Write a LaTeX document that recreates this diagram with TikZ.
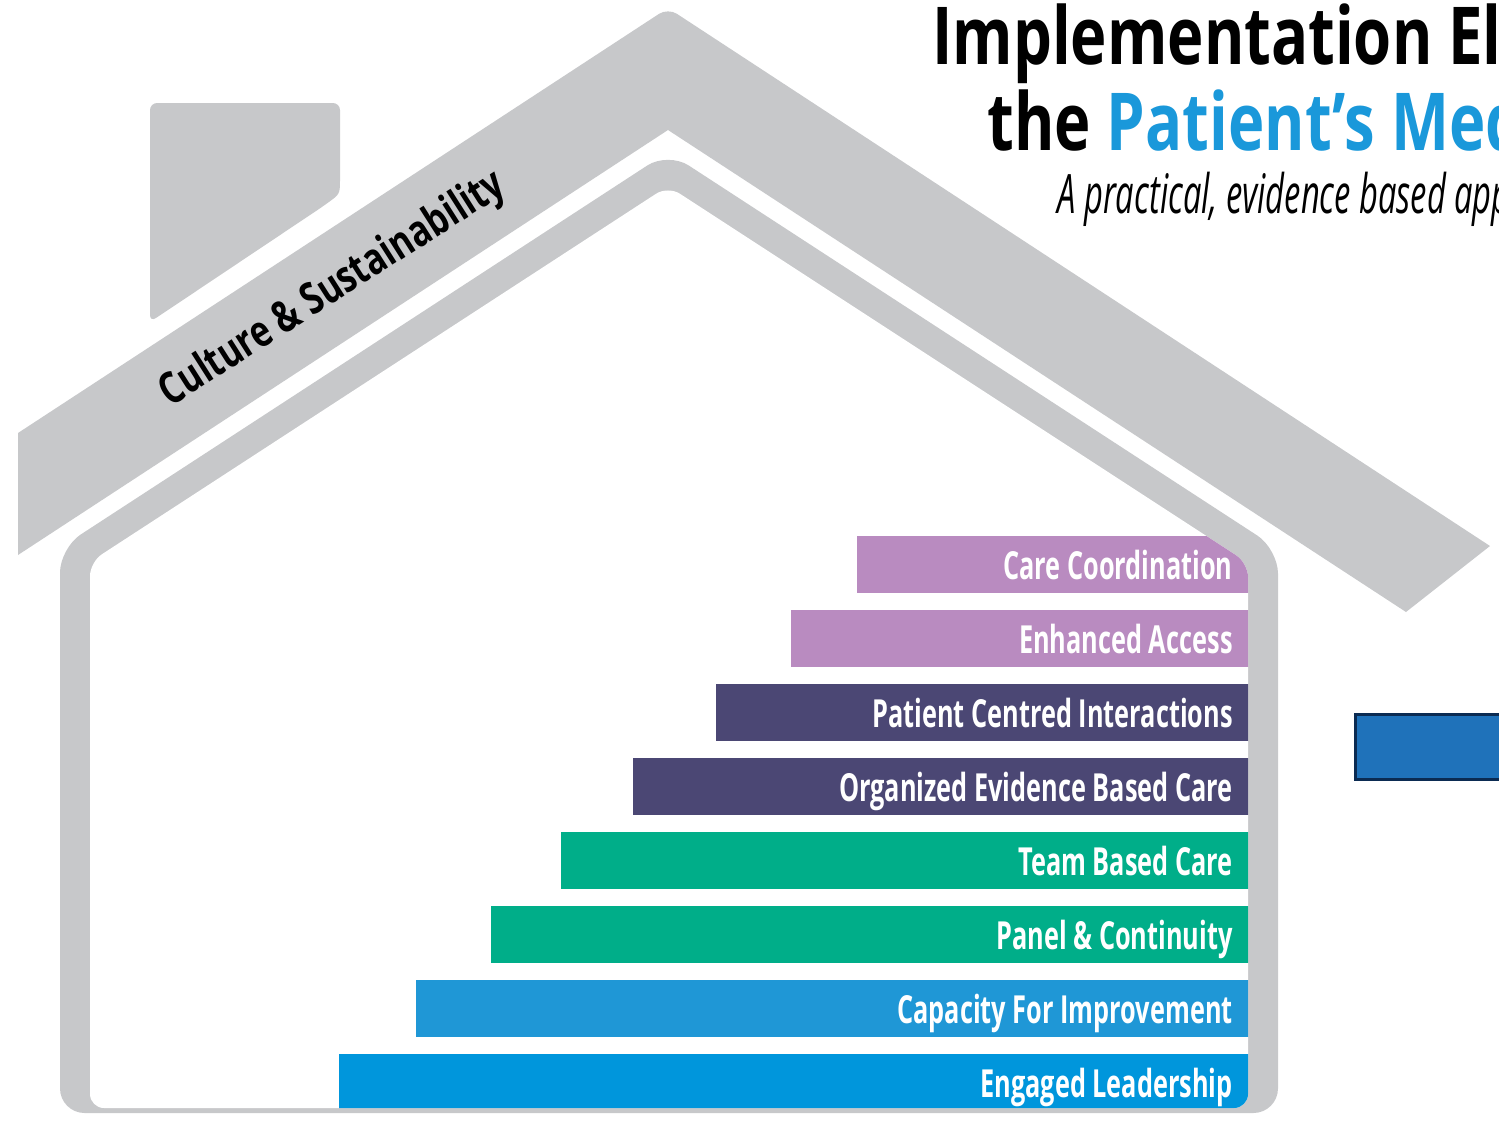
\documentclass[tikz,border=0pt]{standalone}
\usepackage{fontspec}
\newfontfamily\barfont[FakeStretch=0.655]{Open Sans}
\newfontfamily\headfont[FakeStretch=0.77]{Open Sans}
\newfontfamily\subfont[FakeStretch=0.6]{Open Sans}
\newfontfamily\rooffont[FakeStretch=0.77]{Open Sans}
\definecolor{roofgray}{HTML}{C7C8CA}
\definecolor{lilac}{HTML}{B98BC0}
\definecolor{plum}{HTML}{4B4774}
\definecolor{barteal}{HTML}{00AE89}
\definecolor{skyblue}{HTML}{1F97D6}
\definecolor{deepsky}{HTML}{0096DC}
\definecolor{titleblue}{HTML}{1A98DA}
\definecolor{boxblue}{HTML}{1F72BA}
\definecolor{boxnavy}{HTML}{0B2B52}

\begin{document}
\begin{tikzpicture}[x=0.02cm,y=-0.02cm,
  bartext/.style={anchor=base east,text=white,inner sep=0pt,
    font=\barfont\bfseries\fontsize{22}{26}\selectfont},
  headtext/.style={anchor=base west,inner sep=0pt,
    font=\headfont\bfseries\fontsize{45.5}{50}\selectfont},
  subtext/.style={anchor=base west,inner sep=0pt,
    font=\subfont\itshape\fontsize{31}{35}\selectfont},
  rooftext/.style={rotate=32.5,inner sep=0pt,
    font=\rooffont\bfseries\fontsize{25}{29}\selectfont}]
\useasboundingbox (0,0) rectangle (1499,1123);
\clip (0,0) rectangle (1499,1123);

\fill[roofgray,rounded corners=4pt] (150,322) -- (150,103) -- (340,103) -- (340,172)
   .. controls (340,194) .. (322,207) -- cycle;
\fill[roofgray] (18,433) [rounded corners=6pt] -- (668,8) [sharp corners] -- (1490,546)
   -- (1406,612) -- (668,130) -- (18,555) -- cycle;

\fill[roofgray,rounded corners=14pt] (60,1113) -- (60,548) -- (668,152) -- (1278,549) -- (1278,1113) -- cycle;
\fill[white,rounded corners=8pt] (90,1108) -- (90,562) -- (668,186) -- (1248,563) -- (1248,1108) -- cycle;

\begin{scope}
\clip[rounded corners=8pt] (90,1108) -- (90,562) -- (668,186) -- (1248,563) -- (1248,1108) -- cycle;
\fill[lilac] (857,536) rectangle (1260,593);
\fill[lilac] (791,610) rectangle (1260,667);
\fill[plum] (716,684) rectangle (1260,741);
\fill[plum] (633,758) rectangle (1260,815);
\fill[barteal] (561,832) rectangle (1260,889);
\fill[barteal] (491,906) rectangle (1260,963);
\fill[skyblue] (416,980) rectangle (1260,1037);
\fill[deepsky] (339,1054) rectangle (1260,1120);
\end{scope}

\node[bartext] (carecoord) at (1233,579) {Care Coordination};
\node[bartext] (access) at (1233,653) {Enhanced Access};
\node[bartext] (interact) at (1233,727) {Patient Centred Interactions};
\node[bartext] (evidence) at (1233,801) {Organized Evidence Based Care};
\node[bartext] (team) at (1233,875) {Team Based Care};
\node[bartext] (panel) at (1233,949) {Panel \& Continuity};
\node[bartext] (capacity) at (1233,1023) {Capacity For Improvement};
\node[bartext] (leader) at (1233,1097) {Engaged Leadership};

\node[rooftext] (culture) at (333,290) {Culture \& Sustainability};

\node[headtext] (title) at (932,64) {Implementation Ele};
\node[headtext] (titletwo) at (987,150) {the \textcolor{titleblue}{Patient’s Med}};
\node[subtext] (subtitle) at (1057,213) {A practical, evidence based app};

\draw[boxnavy,fill=boxblue,line width=1.7pt] (1355,714) rectangle (1530,779);
\end{tikzpicture}
\end{document}
